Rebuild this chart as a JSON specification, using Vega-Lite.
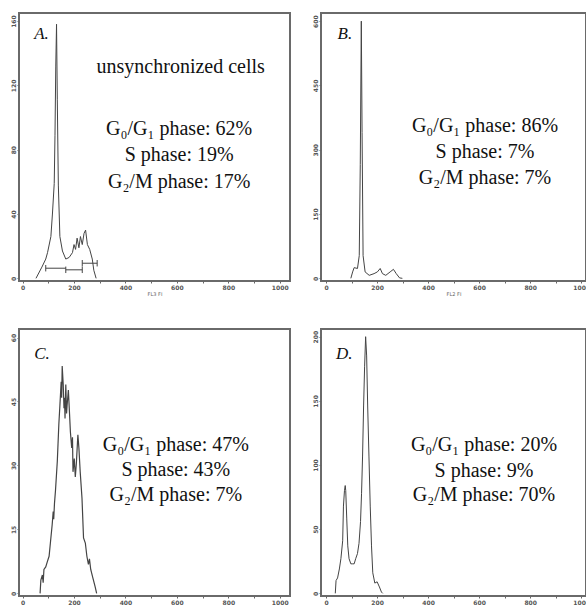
{
  "$schema": "https://vega.github.io/schema/vega-lite/v6.json",
  "background": "white",
  "padding": {"left": 9, "top": 12, "right": 0, "bottom": 0},
  "columns": 2,
  "spacing": {"row": 48, "column": 31},
  "bounds": "flush",
  "datasets": {
    "curves": [
      {"p": "A", "x": 52, "y": 0}, {"p": "A", "x": 75, "y": 7}, {"p": "A", "x": 90, "y": 12}, {"p": "A", "x": 97, "y": 16},
      {"p": "A", "x": 110, "y": 26}, {"p": "A", "x": 116, "y": 40}, {"p": "A", "x": 123, "y": 59}, {"p": "A", "x": 126, "y": 89},
      {"p": "A", "x": 129, "y": 132}, {"p": "A", "x": 132, "y": 158}, {"p": "A", "x": 135, "y": 111}, {"p": "A", "x": 139, "y": 58},
      {"p": "A", "x": 145, "y": 26}, {"p": "A", "x": 155, "y": 17}, {"p": "A", "x": 168, "y": 12}, {"p": "A", "x": 181, "y": 13},
      {"p": "A", "x": 194, "y": 16}, {"p": "A", "x": 200, "y": 21}, {"p": "A", "x": 206, "y": 18}, {"p": "A", "x": 212, "y": 25},
      {"p": "A", "x": 219, "y": 19}, {"p": "A", "x": 225, "y": 26}, {"p": "A", "x": 232, "y": 21}, {"p": "A", "x": 239, "y": 28},
      {"p": "A", "x": 245, "y": 30}, {"p": "A", "x": 252, "y": 21}, {"p": "A", "x": 261, "y": 18}, {"p": "A", "x": 271, "y": 12},
      {"p": "A", "x": 277, "y": 5}, {"p": "A", "x": 286, "y": 0},
      {"p": "B", "x": 97, "y": 0}, {"p": "B", "x": 104, "y": 15}, {"p": "B", "x": 110, "y": 25}, {"p": "B", "x": 123, "y": 23},
      {"p": "B", "x": 130, "y": 53}, {"p": "B", "x": 134, "y": 266}, {"p": "B", "x": 138, "y": 600}, {"p": "B", "x": 141, "y": 340},
      {"p": "B", "x": 145, "y": 53}, {"p": "B", "x": 153, "y": 15}, {"p": "B", "x": 169, "y": 7}, {"p": "B", "x": 188, "y": 11},
      {"p": "B", "x": 201, "y": 15}, {"p": "B", "x": 212, "y": 23}, {"p": "B", "x": 221, "y": 11}, {"p": "B", "x": 234, "y": 7},
      {"p": "B", "x": 251, "y": 15}, {"p": "B", "x": 264, "y": 21}, {"p": "B", "x": 275, "y": 11}, {"p": "B", "x": 288, "y": 1},
      {"p": "B", "x": 299, "y": 0},
      {"p": "C", "x": 68, "y": 0}, {"p": "C", "x": 71, "y": 3.1}, {"p": "C", "x": 77, "y": 4.3}, {"p": "C", "x": 80, "y": 2.5},
      {"p": "C", "x": 83, "y": 5.6}, {"p": "C", "x": 90, "y": 6.2}, {"p": "C", "x": 96, "y": 7.4}, {"p": "C", "x": 103, "y": 8.7},
      {"p": "C", "x": 109, "y": 12.4}, {"p": "C", "x": 115, "y": 16.1}, {"p": "C", "x": 119, "y": 19.2}, {"p": "C", "x": 121, "y": 17.4},
      {"p": "C", "x": 124, "y": 21.1}, {"p": "C", "x": 128, "y": 24.2}, {"p": "C", "x": 135, "y": 31}, {"p": "C", "x": 141, "y": 39.7},
      {"p": "C", "x": 145, "y": 44}, {"p": "C", "x": 150, "y": 49.6}, {"p": "C", "x": 152, "y": 45.9}, {"p": "C", "x": 154, "y": 53.3},
      {"p": "C", "x": 158, "y": 49}, {"p": "C", "x": 161, "y": 43.4}, {"p": "C", "x": 163, "y": 45.9}, {"p": "C", "x": 165, "y": 41},
      {"p": "C", "x": 168, "y": 49}, {"p": "C", "x": 171, "y": 42.2}, {"p": "C", "x": 173, "y": 44}, {"p": "C", "x": 178, "y": 47.7},
      {"p": "C", "x": 182, "y": 42.8}, {"p": "C", "x": 186, "y": 37.8}, {"p": "C", "x": 191, "y": 34.1}, {"p": "C", "x": 194, "y": 36.6},
      {"p": "C", "x": 196, "y": 28.5}, {"p": "C", "x": 201, "y": 31.6}, {"p": "C", "x": 205, "y": 27.3}, {"p": "C", "x": 209, "y": 30.4},
      {"p": "C", "x": 215, "y": 37.2}, {"p": "C", "x": 219, "y": 34.1}, {"p": "C", "x": 224, "y": 28.5}, {"p": "C", "x": 231, "y": 22.3},
      {"p": "C", "x": 237, "y": 13}, {"p": "C", "x": 244, "y": 11.8}, {"p": "C", "x": 250, "y": 8.7}, {"p": "C", "x": 256, "y": 6.8},
      {"p": "C", "x": 260, "y": 8.1}, {"p": "C", "x": 265, "y": 5.6}, {"p": "C", "x": 273, "y": 3.7}, {"p": "C", "x": 282, "y": 1.6},
      {"p": "C", "x": 288, "y": 0},
      {"p": "D", "x": 36, "y": 0}, {"p": "D", "x": 39, "y": 10}, {"p": "D", "x": 45, "y": 12}, {"p": "D", "x": 52, "y": 19},
      {"p": "D", "x": 58, "y": 27}, {"p": "D", "x": 65, "y": 41}, {"p": "D", "x": 68, "y": 68}, {"p": "D", "x": 72, "y": 80},
      {"p": "D", "x": 75, "y": 84}, {"p": "D", "x": 77, "y": 80}, {"p": "D", "x": 81, "y": 58}, {"p": "D", "x": 85, "y": 37},
      {"p": "D", "x": 90, "y": 27}, {"p": "D", "x": 97, "y": 23}, {"p": "D", "x": 103, "y": 23}, {"p": "D", "x": 110, "y": 23},
      {"p": "D", "x": 116, "y": 27}, {"p": "D", "x": 123, "y": 31}, {"p": "D", "x": 129, "y": 39}, {"p": "D", "x": 135, "y": 56},
      {"p": "D", "x": 139, "y": 78}, {"p": "D", "x": 143, "y": 107}, {"p": "D", "x": 147, "y": 146}, {"p": "D", "x": 151, "y": 177},
      {"p": "D", "x": 155, "y": 200}, {"p": "D", "x": 159, "y": 185}, {"p": "D", "x": 163, "y": 146}, {"p": "D", "x": 168, "y": 107},
      {"p": "D", "x": 173, "y": 68}, {"p": "D", "x": 178, "y": 37}, {"p": "D", "x": 183, "y": 16}, {"p": "D", "x": 191, "y": 8},
      {"p": "D", "x": 200, "y": 9}, {"p": "D", "x": 209, "y": 5}, {"p": "D", "x": 217, "y": 1}, {"p": "D", "x": 222, "y": 0}
    ],
    "gates": [
      {"p": "A", "x": 90, "x2": 168, "y": 6.3},
      {"p": "A", "x": 168, "x2": 232, "y": 5.3},
      {"p": "A", "x": 232, "x2": 290, "y": 9.4}
    ],
    "gateEnds": [
      {"p": "A", "x": 90, "y": 4.3, "y2": 8.3},
      {"p": "A", "x": 168, "y": 3.3, "y2": 7.3},
      {"p": "A", "x": 232, "y": 3.3, "y2": 7.3},
      {"p": "A", "x": 232, "y": 7.4, "y2": 11.4},
      {"p": "A", "x": 290, "y": 7.4, "y2": 11.4}
    ],
    "notes": [
      {"p": "A", "k": "letter", "x": 45, "y": 149, "t": "A."},
      {"p": "A", "k": "note", "x": 615, "y": 128, "t": "unsynchronized cells"},
      {"p": "A", "k": "note", "x": 609, "y": 89, "t": "G₀/G₁ phase: 62%"},
      {"p": "A", "k": "note", "x": 609, "y": 73, "t": "S phase: 19%"},
      {"p": "A", "k": "note", "x": 609, "y": 56, "t": "G₂/M phase: 17%"},
      {"p": "B", "k": "letter", "x": 45, "y": 558, "t": "B."},
      {"p": "B", "k": "note", "x": 623, "y": 342, "t": "G₀/G₁ phase: 86%"},
      {"p": "B", "k": "note", "x": 623, "y": 281, "t": "S phase: 7%"},
      {"p": "B", "k": "note", "x": 623, "y": 220, "t": "G₂/M phase: 7%"},
      {"p": "C", "k": "letter", "x": 45, "y": 55, "t": "C."},
      {"p": "C", "k": "note", "x": 596, "y": 33.3, "t": "G₀/G₁ phase: 47%"},
      {"p": "C", "k": "note", "x": 596, "y": 27.5, "t": "S phase: 43%"},
      {"p": "C", "k": "note", "x": 596, "y": 21.7, "t": "G₂/M phase: 7%"},
      {"p": "D", "k": "letter", "x": 39, "y": 183, "t": "D."},
      {"p": "D", "k": "note", "x": 619, "y": 111, "t": "G₀/G₁ phase: 20%"},
      {"p": "D", "k": "note", "x": 619, "y": 91, "t": "S phase: 9%"},
      {"p": "D", "k": "note", "x": 619, "y": 72, "t": "G₂/M phase: 70%"}
    ]
  },
  "concat": [
    {
      "width": 271, "height": 268,
      "encoding": {
        "x": {"field": "x", "type": "quantitative", "scale": {"domain": [-14, 1040], "nice": false, "zero": false},
              "axis": {"values": [0,100,200,300,400,500,600,700,800,900,1000], "labelExpr": "datum.value % 200 == 0 ? datum.label : ''", "format": "d", "title": "FL3 FI"}},
        "y": {"field": "y", "type": "quantitative", "scale": {"domain": [-1.65, 165], "nice": false},
              "axis": {"values": [0, 40, 80, 120, 160], "title": null}}
      },
      "layer": [
        {"data": {"name": "curves"}, "transform": [{"filter": "datum.p == 'A'"}], "mark": {"type": "line", "color": "#444", "strokeWidth": 1}},
        {"data": {"name": "gates"}, "transform": [{"filter": "datum.p == 'A'"}], "mark": {"type": "rule", "color": "#444", "strokeWidth": 1}, "encoding": {"x2": {"field": "x2"}}},
        {"data": {"name": "gateEnds"}, "transform": [{"filter": "datum.p == 'A'"}], "mark": {"type": "rule", "color": "#444", "strokeWidth": 1}, "encoding": {"y2": {"field": "y2"}}},
        {"data": {"name": "notes"}, "transform": [{"filter": "datum.p == 'A' && datum.k == 'note'"}], "mark": {"type": "text", "font": "Liberation Serif", "fontSize": 20, "align": "center", "baseline": "alphabetic", "color": "#111"}, "encoding": {"text": {"field": "t"}}},
        {"data": {"name": "notes"}, "transform": [{"filter": "datum.p == 'A' && datum.k == 'letter'"}], "mark": {"type": "text", "font": "Liberation Serif", "fontSize": 17, "fontStyle": "italic", "align": "left", "baseline": "alphabetic", "color": "#111"}, "encoding": {"text": {"field": "t"}}}
      ]
    },
    {
      "width": 265, "height": 268,
      "encoding": {
        "x": {"field": "x", "type": "quantitative", "scale": {"domain": [-20, 1019], "nice": false, "zero": false},
              "axis": {"values": [0,100,200,300,400,500,600,700,800,900,1000], "labelExpr": "datum.value % 200 == 0 ? datum.label : ''", "format": "d", "title": "FL2 FI"}},
        "y": {"field": "y", "type": "quantitative", "scale": {"domain": [-6.2, 619], "nice": false},
              "axis": {"values": [0, 150, 300, 450, 600], "title": null}}
      },
      "layer": [
        {"data": {"name": "curves"}, "transform": [{"filter": "datum.p == 'B'"}], "mark": {"type": "line", "color": "#444", "strokeWidth": 1}},
        {"data": {"name": "notes"}, "transform": [{"filter": "datum.p == 'B' && datum.k == 'note'"}], "mark": {"type": "text", "font": "Liberation Serif", "fontSize": 20, "align": "center", "baseline": "alphabetic", "color": "#111"}, "encoding": {"text": {"field": "t"}}},
        {"data": {"name": "notes"}, "transform": [{"filter": "datum.p == 'B' && datum.k == 'letter'"}], "mark": {"type": "text", "font": "Liberation Serif", "fontSize": 17, "fontStyle": "italic", "align": "left", "baseline": "alphabetic", "color": "#111"}, "encoding": {"text": {"field": "t"}}}
      ]
    },
    {
      "width": 271, "height": 267,
      "encoding": {
        "x": {"field": "x", "type": "quantitative", "scale": {"domain": [-14, 1040], "nice": false, "zero": false},
              "axis": {"values": [0,100,200,300,400,500,600,700,800,900,1000], "labelExpr": "datum.value % 200 == 0 ? datum.label : ''", "format": "d", "title": null}},
        "y": {"field": "y", "type": "quantitative", "scale": {"domain": [-0.62, 62], "nice": false},
              "axis": {"values": [0, 15, 30, 45, 60], "title": null}}
      },
      "layer": [
        {"data": {"name": "curves"}, "transform": [{"filter": "datum.p == 'C'"}], "mark": {"type": "line", "color": "#444", "strokeWidth": 1.2}},
        {"data": {"name": "notes"}, "transform": [{"filter": "datum.p == 'C' && datum.k == 'note'"}], "mark": {"type": "text", "font": "Liberation Serif", "fontSize": 20, "align": "center", "baseline": "alphabetic", "color": "#111"}, "encoding": {"text": {"field": "t"}}},
        {"data": {"name": "notes"}, "transform": [{"filter": "datum.p == 'C' && datum.k == 'letter'"}], "mark": {"type": "text", "font": "Liberation Serif", "fontSize": 17, "fontStyle": "italic", "align": "left", "baseline": "alphabetic", "color": "#111"}, "encoding": {"text": {"field": "t"}}}
      ]
    },
    {
      "width": 265, "height": 267,
      "encoding": {
        "x": {"field": "x", "type": "quantitative", "scale": {"domain": [-20, 1019], "nice": false, "zero": false},
              "axis": {"values": [0,100,200,300,400,500,600,700,800,900,1000], "labelExpr": "datum.value % 200 == 0 ? datum.label : ''", "format": "d", "title": null}},
        "y": {"field": "y", "type": "quantitative", "scale": {"domain": [-2.06, 206], "nice": false},
              "axis": {"values": [0, 50, 100, 150, 200], "title": null}}
      },
      "layer": [
        {"data": {"name": "curves"}, "transform": [{"filter": "datum.p == 'D'"}], "mark": {"type": "line", "color": "#444", "strokeWidth": 1}},
        {"data": {"name": "notes"}, "transform": [{"filter": "datum.p == 'D' && datum.k == 'note'"}], "mark": {"type": "text", "font": "Liberation Serif", "fontSize": 20, "align": "center", "baseline": "alphabetic", "color": "#111"}, "encoding": {"text": {"field": "t"}}},
        {"data": {"name": "notes"}, "transform": [{"filter": "datum.p == 'D' && datum.k == 'letter'"}], "mark": {"type": "text", "font": "Liberation Serif", "fontSize": 17, "fontStyle": "italic", "align": "left", "baseline": "alphabetic", "color": "#111"}, "encoding": {"text": {"field": "t"}}}
      ]
    }
  ],
  "config": {
    "view": {"stroke": "#6a6a6a", "strokeWidth": 2},
    "axis": {
      "domain": false, "grid": false, "tickColor": "#666", "tickSize": 2,
      "labelFont": "DejaVu Sans", "labelFontSize": 6, "labelFontWeight": "bold", "labelColor": "#555", "labelPadding": 1,
      "titleFont": "DejaVu Sans", "titleFontSize": 5, "titleFontWeight": "normal", "titleColor": "#666", "titlePadding": 1
    },
    "axisY": {"labelAngle": -90}
  }
}
